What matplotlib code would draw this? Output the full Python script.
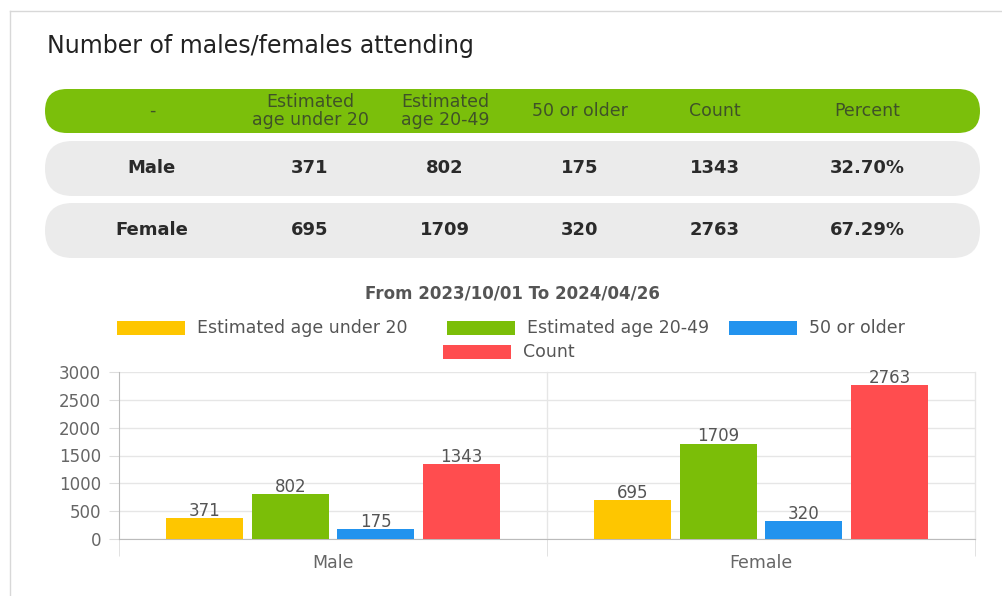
import matplotlib.pyplot as plt
from matplotlib.patches import FancyBboxPatch, Rectangle
import numpy as np

# data
GROUPS = ['Male', 'Female']
SERIES = ['Estimated age under 20', 'Estimated age 20-49', '50 or older', 'Count']
UNDER_20 = [371, 695]
AGE_20_49 = [802, 1709]
OLDER_50 = [175, 320]
COUNT = [1343, 2763]
PERCENT = ['32.70%', '67.29%']
HEADER = ['-', 'Estimated\nage under 20', 'Estimated\nage 20-49', '50 or older', 'Count', 'Percent']
Y_TICKS = [0, 500, 1000, 1500, 2000, 2500, 3000]

COLORS = ['#FEC600', '#7BBE08', '#2293EE', '#FF4D4F']
GREEN_HEAD = '#7BBF0B'
ROW_GREY = '#EBEBEB'

plt.rcParams['font.family'] = 'DejaVu Sans'

W, H = 1003, 596
fig = plt.figure(figsize=(W / 100, H / 100), dpi=100)

# overlay in pixel coordinates for the card / table
bg = fig.add_axes([0, 0, 1, 1])
bg.set_xlim(0, W)
bg.set_ylim(H, 0)
bg.axis('off')

# card border
bg.plot([10, 10], [11, H], color='#d8d8d8', lw=1)
bg.plot([10, W], [11, 11], color='#d8d8d8', lw=1)

bg.text(47, 46, 'Number of males/females attending', fontsize=17,
        color='#222222', ha='left', va='center')

# table
col_x = [152, 310, 445, 580, 715, 867]
rows = [(89, 44, GREEN_HEAD), (141, 55, ROW_GREY), (203, 55, ROW_GREY)]
for y0, h, c in rows:
    bg.add_patch(FancyBboxPatch((45, y0), 935, h,
                                boxstyle=f'round,pad=0,rounding_size={h/2}',
                                fc=c, ec='none'))

for xc, t in zip(col_x, HEADER):
    bg.text(xc, 111, t, fontsize=12.5, color='#3f5228', ha='center', va='center',
            linespacing=1.0)

table_rows = [
    [GROUPS[i], UNDER_20[i], AGE_20_49[i], OLDER_50[i], COUNT[i], PERCENT[i]]
    for i in range(len(GROUPS))
]
for row, yc in zip(table_rows, [168, 230]):
    for xc, v in zip(col_x, row):
        bg.text(xc, yc, str(v), fontsize=13, color='#2a2a2a', ha='center',
                va='center', fontweight='bold')

# chart subtitle
bg.text(512, 293, 'From 2023/10/01 To 2024/04/26', fontsize=12,
        fontweight='bold', color='#555555', ha='center', va='center')

# legend (Chart.js style, two rows)
leg_pos = [(117, 328), (447, 328), (729, 328), (443, 352)]
for (lx, ly), name, c in zip(leg_pos, SERIES, COLORS):
    bg.add_patch(Rectangle((lx, ly - 7), 68, 14, fc=c, ec='none'))
    bg.text(lx + 80, ly, name, fontsize=12.5, color='#555555', ha='left',
            va='center')

# bar chart
ax = fig.add_axes([119 / W, (H - 539) / H, (975 - 119) / W, (539 - 372) / H])
x = np.arange(len(GROUPS))
step, width = 0.2, 0.18
values = [UNDER_20, AGE_20_49, OLDER_50, COUNT]
for i, (vals, c) in enumerate(zip(values, COLORS)):
    bars = ax.bar(x + (i - 1.5) * step, vals, width, color=c, zorder=3)
    ax.bar_label(bars, labels=[str(v) for v in vals], padding=-1,
                 fontsize=12, color='#555555')

ax.set_xlim(-0.5, 1.5)
ax.set_ylim(0, 3000)
ax.set_yticks(Y_TICKS)
ax.set_yticklabels([str(t) for t in Y_TICKS], fontsize=12, color='#666666')
ax.tick_params(axis='y', length=7, color='#dddddd', pad=6)

ax.set_xticks(x)
ax.set_xticklabels(GROUPS, fontsize=12.5, color='#666666')
ax.set_xticks([-0.5, 0.5, 1.5], minor=True)
ax.tick_params(axis='x', which='major', length=0, pad=11)
ax.tick_params(axis='x', which='minor', length=12, color='#dddddd')
ax.tick_params(axis='y', which='minor', length=0)

ax.grid(axis='y', color='#e6e6e6', lw=1, zorder=0)
for xv in [0.5, 1.5]:
    ax.axvline(xv, color='#e6e6e6', lw=1, zorder=0, clip_on=False)

for s in ['top', 'right']:
    ax.spines[s].set_visible(False)
ax.spines['left'].set_color('#bbbbbb')
ax.spines['bottom'].set_color('#bbbbbb')

fig.savefig('out.png', dpi=100)
